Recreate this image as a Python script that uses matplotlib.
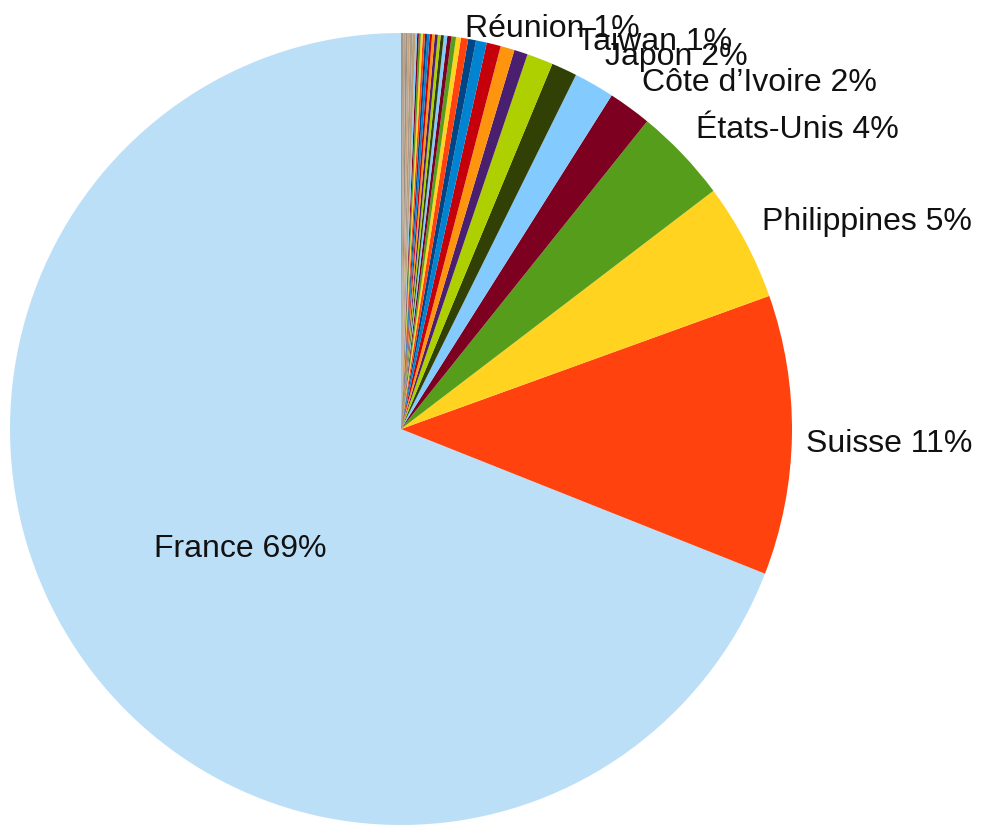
import matplotlib
matplotlib.use("Agg")
import matplotlib.pyplot as plt

# ---- data (percent shares) ----
labels = ["France", "Suisse", "Philippines", "États-Unis", "Côte d’Ivoire",
          "Japon", "Taiwan", "Réunion"]
main_values = [69.0, 11.4, 4.81, 3.89, 1.78, 1.67, 1.06, 1.08]
# unlabelled tiny slices that follow counter-clockwise
small_values = [0.56, 0.58, 0.58, 0.45, 0.32, 0.30, 0.20, 0.19, 0.17, 0.14,
                0.13, 0.12, 0.12, 0.11, 0.10, 0.10, 0.09, 0.09, 0.08, 0.08,
                0.07, 0.07, 0.12, 0.10, 0.10, 0.09, 0.09, 0.09]

palette = ["#004586", "#ff420e", "#ffd320", "#579d1c", "#7e0021", "#83caff",
           "#314004", "#aecf00", "#4b1f6f", "#ff950e", "#c5000b", "#0084d1"]
tail_colors = ["#b8a07a", "#a89a8c", "#c9a57f", "#9c8f86", "#b5a48e", "#a69580"]

values = main_values + small_values
n_pal = len(values) - len(tail_colors)
colors = ["#bcdff8"] + [palette[i % 12] for i in range(1, n_pal)] + tail_colors

fig = plt.figure(figsize=(9.82, 8.27), dpi=100)
ax = fig.add_axes([0, 0, 1, 1])
RX, RY = 391.0, 396.0
cx, cy = 401.0, 429.0
W, H = 982.0, 827.0

wedges, _ = ax.pie(values, colors=colors, startangle=90, counterclock=True,
                   radius=1.0, center=(0, 0), frame=True,
                   wedgeprops=dict(linewidth=0, antialiased=True))
ax.set_aspect("auto")
ax.set_xlim(-cx / RX, (W - cx) / RX)
ax.set_ylim(-(H - cy) / RY, cy / RY)
ax.axis("off")

total = sum(values)
texts = [f"{n} {round(v / total * 100)}%" for n, v in zip(labels, main_values)]

# label anchor positions in pixels (left/baseline), France centered
pix = [(240, 557, "center"), (806, 452, "left"), (762, 230, "left"),
       (696, 138, "left"), (642, 91, "left"), (605, 65, "left"),
       (577, 50, "left"), (465, 37, "left")]
for t, (px, py, ha) in zip(texts, pix):
    ax.text((px - cx) / RX, (cy - py) / RY, t, ha=ha, va="baseline",
            fontsize=23, family=["Liberation Sans", "DejaVu Sans"],
            color="#111111")

fig.savefig("out.png", dpi=100, facecolor="white")
